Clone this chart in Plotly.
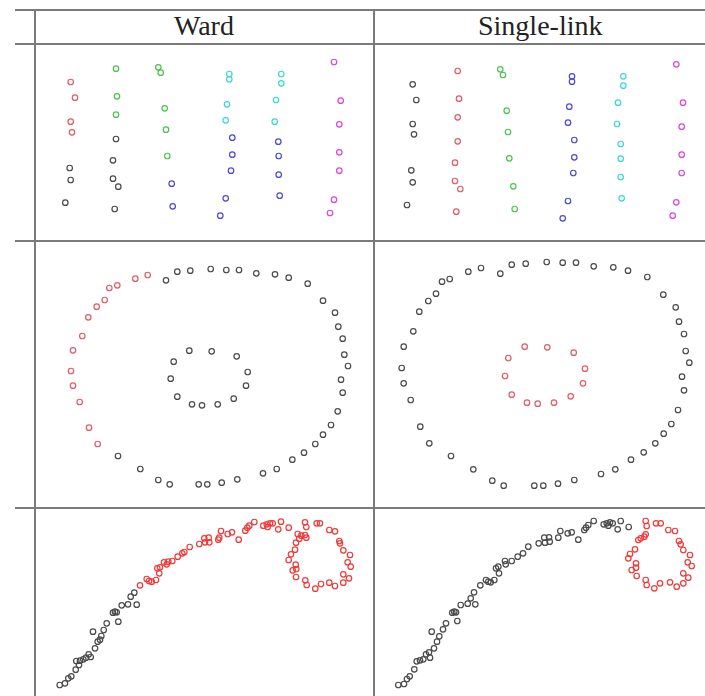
import plotly.graph_objects as go

W, H = 705, 696

HEADERS = ["Ward", "Single-link"]

# ---------- Row 1: six vertical blobs (values read in picture pixel units) ----------
WARD_R1_RED = [(70.7, 82), (75, 97.7), (70.7, 121.7), (72, 132.3)]
WARD_R1_BLACK = [(116, 139), (69.7, 168), (113, 160.3), (70.7, 180), (113, 178.7),
                 (118.3, 186.7), (65.3, 202.7), (114.7, 209)]
WARD_R1_GREEN = [(116, 68.7), (117, 96.3), (116, 114.7), (158.3, 67.3), (160.7, 72.7),
                 (164.7, 108.3), (166, 129.7), (167.3, 156)]
WARD_R1_CYAN = [(229.3, 74), (229.3, 79.3), (227, 104.3), (225.7, 120.3), (281.3, 74),
                (281.3, 83.3), (276, 100), (274.7, 121.7)]
WARD_R1_BLUE = [(232.3, 137.7), (232.3, 154.7), (231, 170.7), (171.7, 183.7), (172.7, 206.3),
                (225.7, 198.3), (220.3, 215.7), (278.3, 141.7), (278.7, 156), (278.7, 174.7),
                (279.7, 195.7)]
WARD_R1_MAGENTA = [(334, 62), (340.7, 100.7), (339.3, 124.3), (339.3, 152.3), (339.3, 170.7),
                   (334, 199.7), (330, 213)]

SL_R1_BLACK = [(412.7, 84.3), (416.3, 100), (412.7, 124), (414, 134.3), (411.3, 170.3),
               (412.7, 182.3), (407, 205)]
SL_R1_RED = [(457.7, 71), (459, 98.7), (457.7, 117.3), (457.7, 141.3), (455, 162.7),
             (455, 181), (460.3, 189), (456.3, 211.7)]
SL_R1_GREEN = [(500.3, 69.3), (503, 75), (506.7, 110.7), (508, 132), (509.3, 158.3),
               (513.3, 186.3), (514.7, 209)]
SL_R1_BLUE = [(572, 76.3), (572, 81.7), (569.3, 106.7), (568, 122.7), (574.3, 140),
              (574.3, 157.3), (573.3, 173), (568, 201), (562.7, 218.3)]
SL_R1_CYAN = [(623.3, 76.3), (623.3, 85.7), (618, 102.7), (617, 124), (620.7, 144),
              (620.7, 158.7), (620.7, 177), (621.7, 198.3)]
SL_R1_MAGENTA = [(676.3, 64.3), (683, 102.7), (681.7, 126.7), (681.7, 154.7), (681.7, 173),
                 (676.3, 202.3), (672.7, 215.7)]

# ---------- Row 2: two concentric rings ----------
WARD_R2_RED = [(147.7, 275), (135.3, 278.7), (117.3, 285.3), (109.3, 288), (104.7, 300),
               (96.7, 306.7), (88.3, 317.3), (82.3, 336), (73, 350.3), (71, 371), (73, 385.7),
               (79.7, 402), (89, 427.7), (97.7, 444)]
WARD_R2_BLACK = [(166, 280.3), (177.3, 271.7), (190.3, 270.7), (210.7, 269), (226.3, 270),
                 (239, 270), (256.3, 273.3), (275, 274.3), (288.7, 277.7), (307.7, 283.7),
                 (323, 300.7), (335, 312.7), (338.3, 326.7), (342.7, 338.7), (344.3, 354.7),
                 (348, 366), (341, 379.7), (342.7, 392.7), (337.7, 411.3), (331, 425),
                 (323, 434.7), (315.3, 444), (304, 452.7), (292.3, 459.7), (276.7, 469),
                 (263, 473.3), (237.3, 479.3), (221.7, 482.7), (207.3, 484.3), (198.7, 484.3),
                 (169.7, 484.3), (158.3, 480), (140.3, 469), (118, 456),
                 (189.3, 350.7), (211.7, 351.3), (236.7, 356.3), (173.7, 361.7), (247.7, 372),
                 (170.7, 378.7), (246, 385.7), (177.3, 396.7), (233.7, 398.7), (192, 404.3),
                 (202, 405.3), (217.7, 404.3)]

SL_R2_BLACK = [(403.7, 346.7), (401.7, 368), (403.7, 383.3), (410.7, 400), (420.3, 426.7),
               (429.3, 443.3), (451, 456), (473.3, 469.3), (492.3, 480.7), (503.7, 485.7),
               (534.3, 485.7), (543.3, 485.7), (558, 483.7), (574.3, 480), (601, 474),
               (615.3, 469.3), (631, 459.7), (643.7, 452.3), (655.3, 443.3), (663.7, 433.7),
               (671.3, 424), (678, 410), (684, 390.3), (682, 376.7), (689.3, 362.7),
               (685.7, 351), (684, 334), (679, 321.7), (675.7, 307.3), (663.3, 294.7),
               (647.3, 277), (628, 270.7), (613.3, 267.3), (593.7, 266.3), (576, 262.7),
               (562.7, 262.7), (546.7, 262), (525.7, 263.7), (511.7, 264.7), (500.3, 273.7),
               (481, 268), (468.3, 271.7), (449.7, 279), (442, 281.7), (436, 293.7),
               (428.3, 301), (419.3, 311.7), (413.3, 331.3)]
SL_R2_RED = [(524.7, 346.7), (547.3, 347.3), (573.7, 352.7), (508.3, 358), (585, 368.7),
             (505, 376), (583, 383.3), (511.7, 394.7), (570.7, 396.3), (527, 402.7),
             (537.7, 403.7), (554, 402.7)]

# ---------- Row 3: arc with a loop ----------
WARD_R3_BLACK = [(59.7, 685), (65, 683.3), (68.3, 678.3), (71.3, 676.3), (75.7, 669.7),
                 (79, 665), (76.3, 661), (80, 660.7), (83.3, 659.3), (86, 657.7), (88.7, 654.3),
                 (90.7, 657), (95, 648.3), (97.7, 641.7), (100, 639.7), (101.3, 636),
                 (103.7, 630), (93, 631.7), (106.7, 623.3), (113, 612.7), (115, 611.7),
                 (116.7, 612.3), (118.3, 621.7), (121.7, 605.3), (128, 604.3), (130.7, 596.7),
                 (134.3, 592.7), (136.7, 604.7)]
WARD_R3_RED = [(140, 585.3), (146.7, 579), (149, 581), (151.7, 581.7), (156, 580),
               (159.3, 573.3), (157.3, 568.3), (160, 567.3), (164, 562.3), (166.7, 564.3),
               (168.3, 561.7), (172.3, 561), (177.7, 556.7), (182.3, 553.3), (184.3, 552),
               (189.7, 547), (199.3, 544), (204.3, 538.3), (208.7, 537.7), (205, 542.3),
               (209.3, 542.3), (218.3, 539.7), (219.3, 537.7), (221, 531), (227.7, 534),
               (232, 532.3), (238.7, 539.7), (245.3, 530.7), (247.3, 527.7), (249.3, 525.7),
               (254.3, 522), (263.3, 525.7), (266.7, 524.3), (267.7, 527), (270, 523.3),
               (272.7, 523.3), (278.3, 529.3), (281, 521.7), (288.7, 527.7), (297.7, 534),
               (299.3, 538.7), (305, 522.3), (306.3, 527), (301.3, 535.7), (305, 535),
               (306.3, 537.7), (296, 542.7), (295, 549.7), (291, 554.3), (288.7, 560),
               (295.7, 564.7), (296.3, 569), (292.7, 570.3), (296, 577), (305.3, 580.3),
               (306.7, 585), (315.3, 588.7), (321, 584), (329.3, 582.7), (335, 586),
               (343.3, 582.7), (343.3, 574.3), (349, 578.3), (350.7, 566.7), (347.7, 562.3),
               (350, 555), (343.3, 550.3), (340, 543.3), (339.3, 541), (335, 531.3),
               (329.3, 530), (320, 523.3), (316.7, 523.3)]

SL_R3_BLACK = [(398.3, 685), (404, 684), (407, 679), (409.7, 676.3), (414.3, 669.3),
               (416.7, 661.3), (420, 660.3), (423.3, 659.3), (426, 654.3), (429, 652.3),
               (430, 657.7), (434, 648.3), (437, 641.7), (439.3, 636.3), (443, 629.3),
               (446, 623.3), (431.7, 631.7), (457.3, 621), (452.3, 612.7), (454.3, 611.7),
               (456, 612.3), (460.7, 605), (467.7, 603.7), (470.7, 598.3), (474, 592.3),
               (475.3, 604.3), (480.3, 585.3), (486, 580), (488.3, 581.7), (490.7, 582.3),
               (494.3, 580), (499, 573.3), (496, 568.3), (498.3, 566.7), (505, 561),
               (505.7, 564.3), (511.7, 561), (517.7, 556.7), (523, 553.3), (528.3, 546.7),
               (538.7, 543.3), (544.3, 537.7), (549, 537.3), (545, 542.7), (549.7, 541.7),
               (558.3, 537.7), (560.3, 531), (567.7, 533.3), (571.7, 532.3), (578.3, 539.7),
               (584.3, 530), (586, 527.7), (588.3, 525), (593.7, 521), (603.7, 524.3),
               (606.7, 523.3), (608.3, 525.7), (610, 522.3), (612.7, 523.3), (617.7, 529.3),
               (620.7, 521), (628.7, 527)]
SL_R3_RED = [(645.7, 521), (646.7, 526), (656, 523.3), (660.7, 523.3), (668.3, 530),
             (675, 531), (638.3, 540), (640.7, 538.3), (644.3, 536.7), (645.7, 534.3),
             (679, 541), (680.7, 544.3), (683.3, 550), (690, 555), (687.7, 562.3),
             (691.7, 566), (683.3, 573.3), (688.3, 577.7), (683.3, 583.3), (676.7, 586.7),
             (670, 582.3), (660, 583.3), (654.3, 588.3), (646.7, 585), (645.7, 580),
             (636.7, 576), (631.7, 570), (636, 567.7), (636, 563.3), (628.3, 558.3),
             (630, 554), (635, 549.3)]

# ---------- styling ----------
C_BLACK = "#4a4a4a"
C_RED = "#e35a68"
C_RED3 = "#f03a3a"
C_GREEN = "#4cc44c"
C_BLUE = "#4a4ad6"
C_CYAN = "#3cd6dc"
C_MAGENTA = "#dc46dc"
GRID = "#7a7a7a"

COL_X = [(35, 374), (374, 705)]
ROW_Y = [(44, 241), (241, 508), (508, 696)]

panels = {
    (0, 0): [(WARD_R1_RED, C_RED), (WARD_R1_BLACK, C_BLACK), (WARD_R1_GREEN, C_GREEN),
             (WARD_R1_CYAN, C_CYAN), (WARD_R1_BLUE, C_BLUE), (WARD_R1_MAGENTA, C_MAGENTA)],
    (0, 1): [(SL_R1_BLACK, C_BLACK), (SL_R1_RED, C_RED), (SL_R1_GREEN, C_GREEN),
             (SL_R1_BLUE, C_BLUE), (SL_R1_CYAN, C_CYAN), (SL_R1_MAGENTA, C_MAGENTA)],
    (1, 0): [(WARD_R2_RED, C_RED), (WARD_R2_BLACK, C_BLACK)],
    (1, 1): [(SL_R2_BLACK, C_BLACK), (SL_R2_RED, C_RED)],
    (2, 0): [(WARD_R3_BLACK, C_BLACK), (WARD_R3_RED, C_RED3)],
    (2, 1): [(SL_R3_BLACK, C_BLACK), (SL_R3_RED, C_RED3)],
}

fig = go.Figure()
layout_axes = {}
idx = 0
for (r, c), groups in panels.items():
    idx += 1
    xa = "x" if idx == 1 else f"x{idx}"
    ya = "y" if idx == 1 else f"y{idx}"
    x0, x1 = COL_X[c]
    y0, y1 = ROW_Y[r]
    for pts, col in groups:
        fig.add_trace(go.Scatter(
            x=[p[0] for p in pts], y=[p[1] for p in pts],
            mode="markers", xaxis=xa, yaxis=ya, showlegend=False, hoverinfo="skip",
            marker=dict(symbol="circle-open", size=5.5, color=col, line=dict(width=1.2)),
        ))
    xkey = "xaxis" if idx == 1 else f"xaxis{idx}"
    ykey = "yaxis" if idx == 1 else f"yaxis{idx}"
    layout_axes[xkey] = dict(domain=[x0 / W, x1 / W], range=[x0, x1], visible=False,
                             anchor=ya, fixedrange=True)
    layout_axes[ykey] = dict(domain=[1 - y1 / H, 1 - y0 / H], range=[y1, y0], visible=False,
                             anchor=xa, fixedrange=True)

shapes = []
for yy in [10, 44, 241, 508]:
    shapes.append(dict(type="line", xref="paper", yref="paper", x0=15 / W, x1=1,
                       y0=1 - yy / H, y1=1 - yy / H, line=dict(color=GRID, width=2)))
for xx in [35, 374]:
    shapes.append(dict(type="line", xref="paper", yref="paper", x0=xx / W, x1=xx / W,
                       y0=1 - 10 / H, y1=0, line=dict(color=GRID, width=2)))

annotations = []
for c, label in enumerate(HEADERS):
    x0, x1 = COL_X[c]
    annotations.append(dict(text=label, xref="paper", yref="paper",
                            x=(x0 + x1) / 2 / W, y=1 - 26 / H, showarrow=False,
                            xanchor="center", yanchor="middle",
                            font=dict(family="Liberation Serif", size=28, color="#222222")))

fig.update_layout(width=W, height=H, margin=dict(l=0, r=0, t=0, b=0),
                  paper_bgcolor="white", plot_bgcolor="white",
                  shapes=shapes, annotations=annotations, **layout_axes)
fig.write_html("out.html")
